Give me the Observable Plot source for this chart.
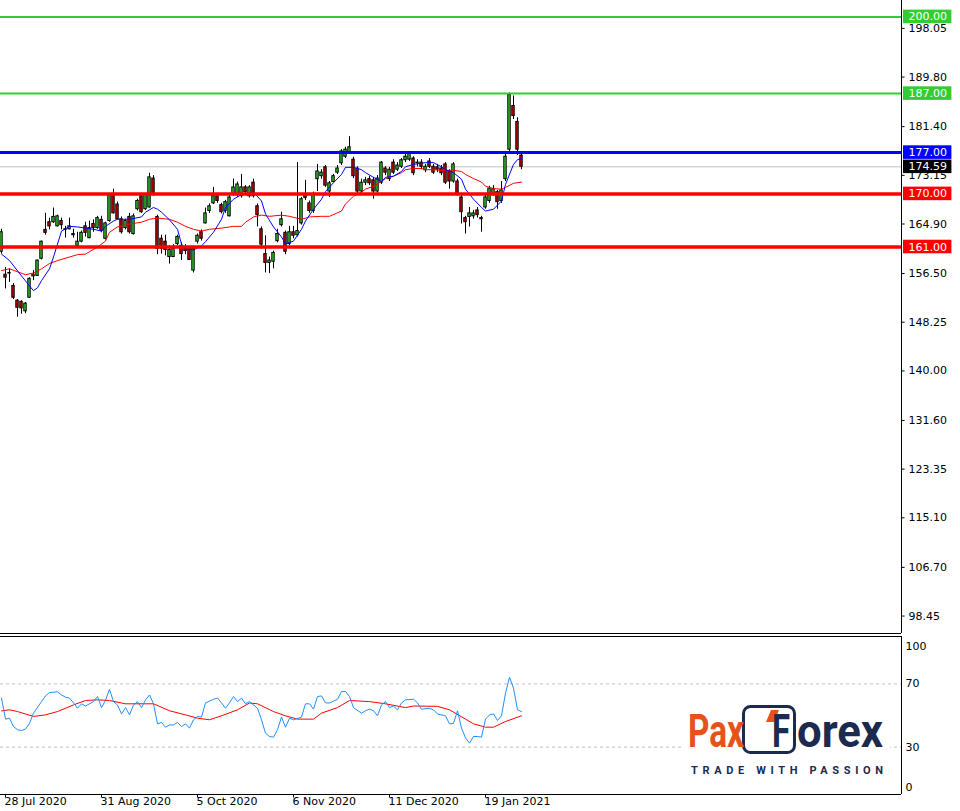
<!DOCTYPE html>
<html><head><meta charset="utf-8">
<script src="https://cdn.jsdelivr.net/npm/d3@7"></script>
<script src="https://cdn.jsdelivr.net/npm/@observablehq/plot@0.6"></script>
<style>
html,body{margin:0;padding:0;background:#fff;}
#chart{position:relative;width:960px;height:811px;overflow:hidden;background:#fff;}
#chart > svg{display:block;}
#logo{position:absolute;left:0;top:0;pointer-events:none;}
</style></head>
<body><div id="chart"></div>
<script>
// ---- price candles (bar index 0 = 27 Jul 2020, daily bars) ----
const opens = [160.2,156.3,156.5,154.4,151.9,151.7,150.1,152.4,156.0,156.1,
159.0,163.9,165.2,165.2,164.5,165.4,164.0,164.0,163.2,161.2,
161.9,164.5,162.5,164.9,164.2,165.6,162.4,165.4,169.9,168.2,
165.7,164.2,166.1,163.2,167.4,169.6,167.4,167.7,172.6,166.1,
162.4,161.9,159.3,159.3,161.5,161.2,160.7,160.7,157.0,161.9,
163.5,165.0,167.1,168.4,169.6,168.1,167.1,166.2,169.8,169.8,
169.6,171.1,169.6,171.9,167.9,164.0,159.8,158.3,158.5,162.0,
164.7,163.4,161.5,163.5,163.0,165.0,169.9,168.4,167.1,172.5,
173.0,174.5,170.4,172.0,173.6,175.2,176.3,177.0,175.8,174.3,
170.4,171.9,172.5,172.3,170.4,171.9,174.3,172.5,175.3,174.1,
174.6,175.7,175.8,176.0,175.2,175.3,174.0,175.5,174.6,174.5,
174.3,175.0,173.8,172.1,172.1,169.4,165.9,166.1,166.2,167.2,
165.7,167.7,168.8,169.9,170.3,168.8,172.5,177.5,184.9,182.2,
176.5];
const highs = [164.0,157.5,157.3,154.8,152.1,151.9,151.6,155.8,157.0,158.8,
162.0,166.7,165.9,167.6,166.4,165.9,164.5,165.9,164.0,163.5,
163.7,165.2,165.4,165.6,166.2,166.2,165.2,169.9,170.8,168.6,
166.1,165.7,166.7,166.6,169.1,170.1,170.1,173.5,173.1,166.4,
163.0,163.0,161.2,161.4,163.0,161.7,161.4,161.0,160.8,163.2,
163.9,167.6,168.3,171.1,169.9,168.4,168.9,169.8,172.5,172.0,
173.3,171.4,171.4,172.5,168.3,164.4,162.9,159.3,160.3,164.0,
166.9,163.7,164.5,164.5,175.3,169.4,172.3,168.8,170.3,175.0,
174.1,174.8,172.1,173.3,174.8,177.5,177.9,179.7,176.2,174.6,
172.5,172.8,173.0,172.8,173.1,175.5,174.6,174.5,175.8,175.3,
176.0,176.7,177.2,176.3,175.8,175.8,175.0,176.0,175.0,175.0,
174.8,175.3,174.1,175.3,172.5,169.8,166.2,167.7,167.2,167.7,
166.2,169.8,171.3,171.4,170.6,172.1,177.2,187.1,186.6,182.9,
177.2];
const lows = [159.8,153.9,155.0,152.1,149.1,149.6,149.7,152.3,155.3,156.0,
158.8,163.0,163.9,165.0,164.4,163.9,162.5,163.9,162.5,160.8,
161.7,162.7,162.4,163.5,164.0,163.4,162.2,165.2,166.6,165.6,
163.2,163.9,163.2,163.0,167.1,166.7,167.2,167.6,169.6,159.7,
159.8,159.5,158.1,159.2,161.2,158.7,159.7,158.7,156.6,161.5,
162.0,164.9,166.7,168.2,168.4,166.6,166.7,166.1,169.6,169.4,
169.3,169.9,169.3,169.3,164.4,160.7,156.6,156.5,157.3,161.7,
164.4,159.7,161.2,162.4,162.7,164.7,168.9,166.7,166.7,170.4,
172.5,171.1,169.4,171.9,173.3,174.8,176.0,176.7,172.6,169.9,
170.1,171.4,171.4,169.1,170.1,171.6,173.1,172.1,173.3,173.8,
174.3,175.3,175.5,173.1,174.6,174.1,173.6,174.3,173.3,173.6,
173.1,171.6,170.8,171.8,169.6,164.9,163.2,164.4,165.7,165.9,
163.5,167.4,168.4,169.6,167.4,168.4,172.1,177.2,182.6,176.5,
174.1];
const closes = [163.5,155.8,156.6,152.4,150.7,150.6,151.4,155.6,156.3,158.7,
161.9,163.4,164.5,166.1,166.2,164.7,163.9,164.5,163.0,161.9,
163.4,163.4,164.2,164.2,165.9,163.7,165.0,169.8,166.7,165.7,
163.5,165.4,163.5,166.2,168.8,166.9,169.8,172.8,169.9,160.7,
160.7,160.5,160.5,160.7,162.7,159.8,160.3,158.8,160.7,162.9,
162.4,166.7,167.9,169.6,168.8,166.9,168.6,169.4,171.1,171.6,
171.1,170.3,171.1,169.6,166.4,161.4,158.3,158.7,160.0,163.2,
165.7,160.2,163.5,162.9,163.7,169.1,169.3,167.1,169.9,173.8,
173.6,171.4,171.8,173.0,174.3,177.2,177.5,177.9,173.0,170.4,
171.9,172.3,171.8,170.4,172.6,175.3,173.6,174.1,173.6,174.8,
175.7,176.3,176.8,173.5,175.3,174.6,174.6,174.6,173.6,174.1,
173.5,171.9,172.1,175.0,169.9,166.9,165.2,166.7,166.7,166.4,
165.9,169.4,170.9,170.8,168.6,170.6,176.3,186.8,183.2,177.5,
174.59];

// ---- moving averages (bar index, value) ----
const fastMaIdx = [0,2,5,7,8,9,10,12,13,14,15,17,19,23,25,26,28,29,32,35,36,38,39,40,42,44,45,46,48,50,51,53,55,56,58,60,61,63,65,66,68,70,71,73,75,76,78,80,81,83,85,86,88,90,91,93,95,96,98,100,101,103,105,106,108,110,111,113,115,116,118,120,121,123,125,126,128,129,130];
const fastMaVal = [159.8,158.7,156.1,154.4,153.6,154.1,155.3,157.3,159.3,161.5,163.7,164.5,164.4,164.0,163.7,164.5,165.4,165.7,165.7,166.1,166.9,167.7,167.4,166.9,165.6,164.0,161.5,160.7,160.5,161.2,161.9,163.5,165.7,167.7,169.1,169.9,169.9,170.3,168.8,166.6,164.4,162.7,161.5,162.0,164.0,165.4,167.4,169.1,170.4,171.9,173.3,174.5,174.5,174.1,173.6,172.8,172.1,172.8,173.0,173.8,174.6,175.0,175.2,175.3,175.3,174.6,174.1,173.6,172.5,170.8,169.1,167.7,167.1,167.4,168.8,171.6,175.0,175.8,176.0];
const slowMaIdx = [0,2,4,6,8,10,12,14,17,19,21,22,24,26,27,29,32,35,37,39,42,44,46,48,50,52,55,58,60,61,63,65,67,70,72,75,77,80,82,85,86,88,90,91,93,95,96,98,100,101,103,105,106,108,110,113,115,116,118,120,121,123,125,126,128,130];
const slowMaVal = [157.0,157.3,156.8,156.3,156.6,157.3,158.2,158.7,159.3,159.7,159.8,160.2,161.0,162.0,163.5,164.4,164.9,165.2,165.7,165.9,165.7,165.2,164.5,164.0,163.7,164.0,164.2,164.5,164.5,165.2,166.1,166.4,166.2,166.4,166.2,165.7,166.1,166.2,166.2,167.1,168.3,169.6,170.3,170.8,171.3,172.1,172.6,173.0,173.6,174.1,174.3,174.3,174.1,174.1,174.0,174.0,173.8,173.3,172.6,172.0,171.3,170.9,170.8,171.1,171.8,172.0];

// ---- RSI pane ----
const rsiIdx = [0,1,2,3,4,5,6,7,8,10,11,12,14,15,16,17,18,19,20,21,23,24,25,26,27,28,29,30,31,32,33,34,35,36,37,38,39,40,41,42,43,44,45,46,47,48,49,50,51,53,54,55,56,57,58,59,60,61,62,64,65,66,67,68,69,70,71,72,73,75,76,77,78,79,80,81,82,84,85,86,87,88,90,91,92,93,94,95,96,97,98,99,100,101,103,104,105,107,108,109,111,112,113,114,115,116,117,118,119,120,121,122,123,124,125,126,127,128,129,130];
const rsiVal = [61,47.7,48.3,43,41,40.5,41.4,45,51.5,58.8,62.4,64.5,65,63,61.6,61,58,54.6,57.4,56,58.8,62,55,59.6,66.6,58.8,56.7,51,55,50.4,56.7,58.8,55,59.9,63,57.4,44.7,45.6,42.6,44,44,45.6,43,44.7,42,47.3,49.4,49,58,60.3,61,58,54.6,58,62,58.8,61,57.4,58.8,54.6,47.3,38.8,36.7,36.3,41,49,42.6,48.3,47.3,49,57.4,57.4,54,62,62.4,58,57.9,60.3,65.2,65.2,62,55,51.5,53,54,53,49.8,56.7,58.8,55,56,53.6,57.9,59.9,60.3,58,54,54.6,53.6,51,49.8,44.7,45,53,42,35.8,32.5,36.7,36.7,36.3,47.7,50.4,51,46.8,49.8,64.1,74.2,67.3,53.6,52.5];
const signalIdx = [0,2,4,8,11,14,18,21,24,27,31,38,42,46,49,52,55,59,62,64,68,71,74,78,80,84,87,92,96,101,103,109,112,116,118,121,123,126,130];
const signalVal = [52.9,53.6,52.5,49.4,50.4,52.5,56.7,59.5,59.9,59.5,57.4,57.4,53,50.4,48.3,47.3,49.8,53.6,57.9,57.4,52.5,49.8,47.7,47.7,51.5,55,59.5,58.8,57.4,55,56,55.8,53.6,47.7,44.7,42.6,42.6,46.2,49.8];
const rsiLevels = [70, 30];

// ---- levels, axis labels ----
const levelValues = [200, 187, 177, 170, 161];
const levelColors = ["#32cd32", "#32cd32", "#0000ff", "#ff0000", "#ff0000"];
const levelWidths = [2, 2, 3, 3.5, 3.5];
const lastPrice = 174.59;
const priceTicks = [198.05,189.80,181.40,173.15,164.90,156.50,148.25,140.00,131.60,123.35,115.10,106.70,98.45];
const dateTickIdx = [1, 25, 49, 73, 97, 121];
const dateTickLabels = ["28 Jul 2020","31 Aug 2020","5 Oct 2020","6 Nov 2020","11 Dec 2020","19 Jan 2021"];

// ---- build tables ----
const candles = closes.map((c, i) => ({i, open: opens[i], high: highs[i], low: lows[i], close: c}));
const fastMa = fastMaIdx.map((i, k) => ({i, v: fastMaVal[k]}));
const slowMa = slowMaIdx.map((i, k) => ({i, v: slowMaVal[k]}));
const rsi = rsiIdx.map((i, k) => ({i, v: rsiVal[k]}));
const signal = signalIdx.map((i, k) => ({i, v: signalVal[k]}));
const levels = levelValues.map((v, k) => ({v, c: levelColors[k], w: levelWidths[k], t: v.toFixed(2)}));
const boxes = [...levels, {v: lastPrice, c: "#000000", t: lastPrice.toFixed(2)}];
const dateTicks = dateTickIdx.map((i, k) => ({i, t: dateTickLabels[k]}));

const FONT = "'DejaVu Sans', Verdana, sans-serif";
const X_DOMAIN = [-0.25, 225];
const XR = 225; // right edge of the plotting area (axis)
const BULL = "#32cd32", BEAR = "#d40000";

const main = Plot.plot({
  width: 960, height: 634,
  marginLeft: 0, marginRight: 59, marginTop: 0, marginBottom: 1,
  x: {domain: X_DOMAIN, axis: null},
  y: {domain: [95.49, 202.78], axis: null},
  color: {type: "identity"},
  style: {fontFamily: FONT, background: "#fff", overflow: "visible"},
  marks: [
    Plot.ruleY([lastPrice], {stroke: "#c0c0c0", strokeWidth: 1}),
    Plot.ruleX(candles, {x: "i", y1: "low", y2: "high", stroke: "#000", strokeWidth: 1}),
    Plot.rect(candles, {x1: d => d.i - 0.3, x2: d => d.i + 0.3, y1: "open", y2: "close",
      fill: d => d.close >= d.open ? BULL : BEAR, stroke: "#000", strokeWidth: 1}),
    Plot.line(slowMa, {x: "i", y: "v", stroke: "#ff0000", strokeWidth: 1}),
    Plot.line(fastMa, {x: "i", y: "v", stroke: "#0000ff", strokeWidth: 1}),
    ...levels.map(l => Plot.ruleY([l.v], {stroke: l.c, strokeWidth: l.w})),
    Plot.ruleY([95.49], {stroke: "#000", strokeWidth: 1}),
    Plot.ruleX([XR], {stroke: "#000", strokeWidth: 1}),
    Plot.ruleY(priceTicks, {y: d => d, x1: () => XR, x2: () => XR + 0.9, stroke: "#000"}),
    Plot.text(priceTicks, {y: d => d, frameAnchor: "right", dx: 7, textAnchor: "start",
      text: d => d.toFixed(2), fontSize: 11, fill: "#000"}),
    Plot.rect(boxes, {x1: () => XR + 0.5, x2: () => XR + 12.6, y1: d => d.v - 1.15, y2: d => d.v + 1.15, fill: "c"}),
    Plot.text(boxes, {y: "v", frameAnchor: "right", dx: 7, textAnchor: "start", text: "t", fontSize: 11, fill: "#fff"})
  ]
});

const rsiPlot = Plot.plot({
  width: 960, height: 177,
  marginLeft: 0, marginRight: 59, marginTop: 2, marginBottom: 17,
  x: {domain: X_DOMAIN, axis: null},
  y: {domain: [0, 100], axis: null},
  style: {fontFamily: FONT, background: "#fff", overflow: "visible"},
  marks: [
    Plot.ruleY(rsiLevels, {stroke: "#c0c0c0", strokeDasharray: "3,3", strokeWidth: 1}),
    Plot.line(signal, {x: "i", y: "v", stroke: "#ff0000", strokeWidth: 1}),
    Plot.line(rsi, {x: "i", y: "v", stroke: "#1e90ff", strokeWidth: 1}),
    Plot.ruleY([100], {stroke: "#000", strokeWidth: 1}),
    Plot.ruleY([0], {stroke: "#000", strokeWidth: 1}),
    Plot.ruleX([XR], {y1: () => 100, y2: () => 0, stroke: "#000", strokeWidth: 1}),
    Plot.text(rsiLevels, {y: d => d, frameAnchor: "right", dx: 4, textAnchor: "start", text: d => String(d), fontSize: 11, fill: "#000"}),
    Plot.text(["100"], {y: () => 100, frameAnchor: "right", dx: 4, dy: 10, textAnchor: "start", text: d => d, fontSize: 11, fill: "#000"}),
    Plot.text(["0"], {y: () => 0, frameAnchor: "right", dx: 4, dy: -7, textAnchor: "start", text: d => d, fontSize: 11, fill: "#000"}),
    Plot.ruleX(dateTicks, {x: "i", y1: () => 0, y2: () => -2.2, stroke: "#000"}),
    Plot.text(dateTicks, {x: "i", frameAnchor: "bottom", dy: 10, dx: -1, textAnchor: "start", text: "t", fontSize: 11, fill: "#000"})
  ]
});

const chart = document.getElementById("chart");
chart.appendChild(main);
chart.appendChild(rsiPlot);

// ---- watermark logo ----
const NAVY = "#1b2a4e", ORANGE = "#e5531a";
const logo = d3.select(chart).append("svg").attr("id", "logo").attr("width", 960).attr("height", 811);
logo.append("rect").attr("x", 684).attr("y", 700).attr("width", 206).attr("height", 82).attr("fill", "#fff");
logo.append("rect").attr("x", 743.5).attr("y", 706.5).attr("width", 51).attr("height", 46).attr("rx", 7)
  .attr("fill", "none").attr("stroke", NAVY).attr("stroke-width", 3);
logo.append("text").attr("x", 688).attr("y", 747).attr("font-family", "Roboto").attr("font-weight", 700)
  .attr("font-size", 46).attr("fill", ORANGE).attr("textLength", 56).attr("lengthAdjust", "spacingAndGlyphs").text("Pax");
logo.append("polygon").attr("points", "766,722 771,710 779,710 774,722").attr("fill", ORANGE);
logo.append("text").attr("x", 772).attr("y", 747).attr("font-family", "Roboto").attr("font-weight", 700)
  .attr("font-size", 46).attr("fill", NAVY).attr("textLength", 18).attr("lengthAdjust", "spacingAndGlyphs").text("F");
logo.append("text").attr("x", 797).attr("y", 747).attr("font-family", "Roboto").attr("font-weight", 700)
  .attr("font-size", 46).attr("fill", NAVY).attr("textLength", 86).attr("lengthAdjust", "spacingAndGlyphs").text("orex");
logo.append("text").attr("x", 691).attr("y", 774).attr("font-family", "Roboto").attr("font-weight", 700)
  .attr("font-size", 11).attr("fill", NAVY).attr("textLength", 192).attr("lengthAdjust", "spacing").text("TRADE WITH PASSION");
</script>
</body></html>
